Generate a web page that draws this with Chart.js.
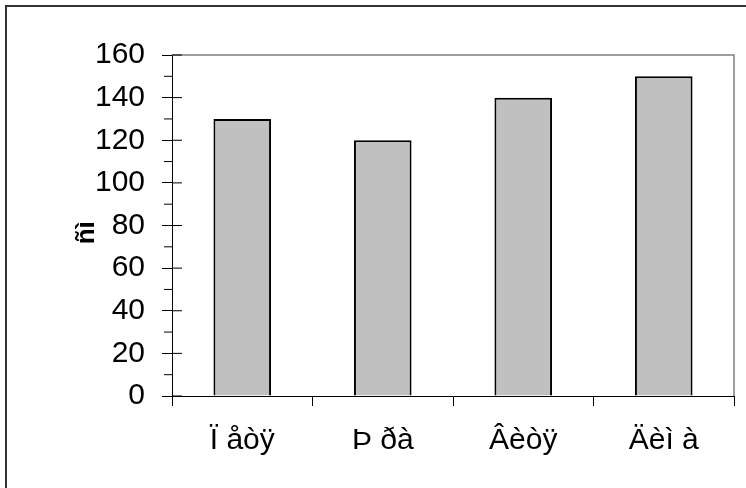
<!DOCTYPE html>
<html>
<head>
<meta charset="utf-8">
<script src="https://cdn.jsdelivr.net/npm/chart.js@4"></script>
<style>
  body { margin: 0; background: #fff; }
  canvas { display: block; }
</style>
</head>
<body>
<canvas id="heights" width="746" height="488"></canvas>
<script>
// data
const names = ['Ï åòÿ', 'Þ ðà', 'Âèòÿ', 'Äèì à']
const heights = [130, 120, 140, 150]
const yTitle = 'ñì  '   // trailing spaces nudge the rotated title down a bit

Chart.defaults.font.family = '"Liberation Sans", Arial, sans-serif'
Chart.defaults.color = '#000'

// plot border, minor ticks, ticks poking into the plot, outer frame
const extras = {
    id: 'extras',
    afterDraw(chart){
        const {ctx, chartArea: a, scales: {y}} = chart
        const line = (x1, y1, x2, y2)=>{
            ctx.beginPath(); ctx.moveTo(x1, y1); ctx.lineTo(x2, y2); ctx.stroke()
        }
        ctx.save()
        ctx.strokeStyle = '#808080'
        ctx.lineWidth = 1.5
        ctx.beginPath()
        ctx.moveTo(a.left, a.top); ctx.lineTo(a.right, a.top); ctx.lineTo(a.right, a.bottom)
        ctx.stroke()

        ctx.strokeStyle = '#000'
        ctx.lineWidth = 1
        y.ticks.forEach((t, i)=>{
            const py = y.getPixelForValue(t.value)
            line(a.left, py, a.left + 10, py)
            if (i < y.ticks.length - 1){
                const my = y.getPixelForValue((t.value + y.ticks[i + 1].value) / 2)
                line(a.left - 8, my, a.left, my)
            }
        })

        ctx.strokeStyle = '#333'
        ctx.lineWidth = 2
        ctx.strokeRect(6, 6, chart.width, chart.height)
        ctx.restore()
    }
}

new Chart(document.querySelector('#heights'), {
    type: 'bar',
    data: {
        labels: names,
        datasets: [{
            data: heights,
            backgroundColor: '#c0c0c0',
            borderColor: '#000',
            borderWidth: 2,
            categoryPercentage: 1,
            barPercentage: 0.41
        }]
    },
    options: {
        responsive: false,
        animation: false,
        layout: {padding: {top: 55, right: 12, left: 0, bottom: 0}},
        plugins: {legend: {display: false}, tooltip: {enabled: false}},
        scales: {
            x: {
                grid: {drawOnChartArea: false, color: '#000', tickLength: 10, offset: true},
                border: {color: '#000', width: 1},
                ticks: {font: {size: 30}, padding: 17, maxRotation: 0},
                afterFit: s => { s.height = 92 }
            },
            y: {
                min: 0,
                max: 160,
                grid: {drawOnChartArea: false, color: '#000', tickLength: 10},
                border: {color: '#000', width: 1},
                ticks: {stepSize: 20, font: {size: 30}, padding: 17},
                title: {display: true, text: yTitle, font: {size: 26, weight: 'bold', lineHeight: 1}, padding: {top: 74, bottom: 0}},
                afterFit: s => { s.width = 172 }
            }
        }
    },
    plugins: [extras]
})
</script>
</body>
</html>
